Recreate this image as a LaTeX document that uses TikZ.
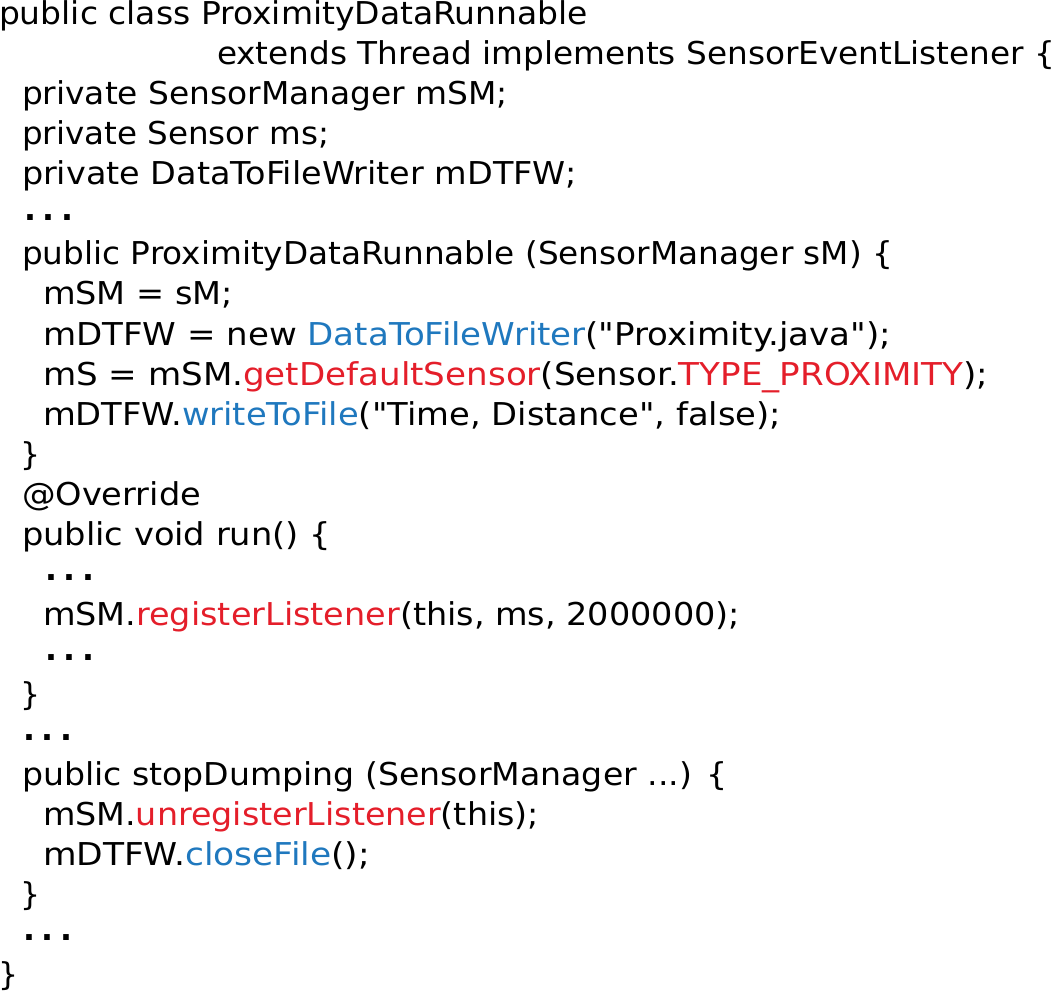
\documentclass[tikz,border=0pt]{standalone}
\usepackage{fontspec}
\newfontfamily\codefont{DejaVu Sans}
\usepackage{graphicx}
\definecolor{kwred}{RGB}{228,30,42}
\definecolor{kwblue}{RGB}{31,120,190}
\newcommand\rd[1]{\textcolor{kwred}{#1}}
\newcommand\bl[1]{\textcolor{kwblue}{#1}}
\newcommand\fitto[2]{\resizebox{\dimexpr 0.75pt*(#1)\relax}{\height}{#2}}
\newcommand\ddd{\raisebox{3.6pt}{\textbf{.}\hspace{5.2pt}\textbf{.}\hspace{5.2pt}\textbf{.}}}
\tikzset{codeline/.style={anchor=base west, inner sep=0pt, outer sep=0pt, text=black,
  font=\codefont\fontsize{23.6pt}{28pt}\selectfont}}
\begin{document}
\begin{tikzpicture}[x=0.75pt,y=-0.75pt]
\useasboundingbox (0,0) rectangle (1055,1005);
\node[codeline] (l1)  at (-1,25)  {\fitto{589}{public class ProximityDataRunnable}};
\node[codeline] (l2)  at (217,65) {\fitto{838}{extends Thread implements SensorEventListener \{}};
\node[codeline] (l3)  at (22,105) {\fitto{486}{private SensorManager mSM;}};
\node[codeline] (l4)  at (22,145) {\fitto{307}{private Sensor ms;}};
\node[codeline] (l5)  at (22,185) {\fitto{555}{private DataToFileWriter mDTFW;}};
\node[codeline] (l6)  at (24,225) {\ddd};
\node[codeline] (l7)  at (22,265) {\fitto{871}{public ProximityDataRunnable (SensorManager sM) \{}};
\node[codeline] (l8)  at (43,305) {\fitto{190}{mSM = sM;}};
\node[codeline] (l9)  at (43,345) {\fitto{848}{mDTFW = new \bl{DataToFileWriter}("Proximity.java");}};
\node[codeline] (l10) at (43,385) {\fitto{945}{mS = mSM.\rd{getDefaultSensor}(Sensor.\rd{TYPE\_PROXIMITY});}};
\node[codeline] (l11) at (43,425) {\fitto{738}{mDTFW.\bl{writeToFile}("Time, Distance", false);}};
\node[codeline] (l12) at (21,465) {\}};
\node[codeline] (l13) at (22,505) {\fitto{179}{@Override}};
\node[codeline] (l14) at (22,545) {\fitto{309}{public void run() \{}};
\node[codeline] (l15) at (45,585) {\ddd};
\node[codeline] (l16) at (43,625) {\fitto{697}{mSM.\rd{registerListener}(this, ms, 2000000);}};
\node[codeline] (l17) at (45,665) {\ddd};
\node[codeline] (l18) at (21,705) {\}};
\node[codeline] (l19) at (23,745) {\ddd};
\node[codeline] (l20) at (22,785) {\fitto{705}{public stopDumping (SensorManager ...) \{}};
\node[codeline] (l21) at (43,825) {\fitto{496}{mSM.\rd{unregisterListener}(this);}};
\node[codeline] (l22) at (43,865) {\fitto{327}{mDTFW.\bl{closeFile}();}};
\node[codeline] (l23) at (21,905) {\}};
\node[codeline] (l24) at (23,945) {\ddd};
\node[codeline] (l25) at (-2,985) {\}};
\end{tikzpicture}
\end{document}
